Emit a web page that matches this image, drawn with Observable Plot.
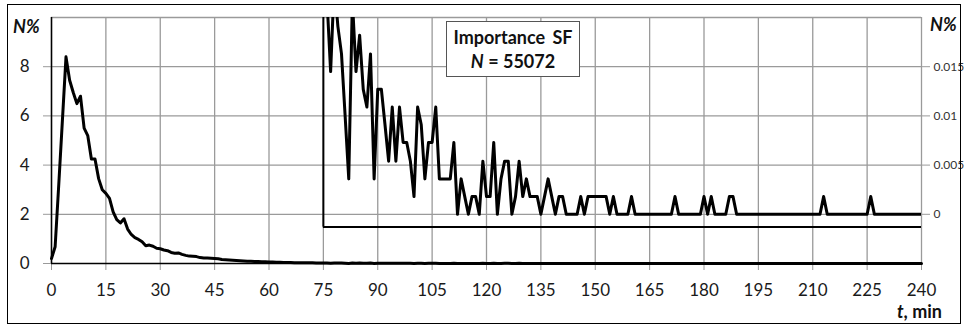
<!DOCTYPE html>
<html>
<head>
<meta charset="utf-8">
<script src="https://cdn.jsdelivr.net/npm/d3@7"></script>
<script src="https://cdn.jsdelivr.net/npm/@observablehq/plot@0.6"></script>
<style>
  body { margin: 0; background: #fff; font-family: Lato, "Open Sans", sans-serif; }
  #wrap { position: relative; width: 966px; height: 325px; overflow: hidden; }
  #frame { position: absolute; left: 7px; top: 4px; width: 954px; height: 320px; box-sizing: border-box; border: 1px solid #000; pointer-events: none; }
  #chart { position: absolute; left: 0; top: 0; }
  .lbl { position: absolute; font-family: Lato, sans-serif; font-weight: 700; color: #111; white-space: nowrap; line-height: 1; }
  #box { position: absolute; left: 446px; top: 21px; width: 134px; height: 56px; box-sizing: border-box; border: 1px solid #555; background: #fff;
         font-family: Lato, sans-serif; font-weight: 700; font-size: 18px; color: #111; text-align: center; line-height: 24px; padding-top: 3px; }
</style>
</head>
<body>
<div id="wrap">
  <div id="chart"></div>
  <div id="frame"></div>
  <div class="lbl" style="left:13px; top:17px; font-size:18px; font-style:italic;">N%</div>
  <div class="lbl" style="left:930px; top:15px; font-size:18px; font-style:italic;">N%</div>
  <div class="lbl" style="right:24px; top:302px; font-size:18px;"><i>t</i>, min</div>
  <div id="box"><div style="word-spacing:3px">Importance SF</div><div><i>N</i> = 55072</div></div>
</div>
<script>
// minutes after shock (x)
const minutes = d3.range(0, 241);
// N% per minute, t = 0..74
const nEarly = [
  0.2, 0.68, 3.2, 5.8, 8.4, 7.45, 6.95, 6.5, 6.8, 5.5,
  5.2, 4.25, 4.25, 3.45, 3.0, 2.85, 2.65, 2.1, 1.78, 1.65,
  1.82, 1.4, 1.18, 1.05, 0.98, 0.88, 0.72, 0.75, 0.7, 0.62,
  0.6, 0.55, 0.52, 0.45, 0.42, 0.43, 0.37, 0.33, 0.3, 0.29,
  0.28, 0.24, 0.22, 0.22, 0.21, 0.2, 0.19, 0.16, 0.15, 0.14,
  0.13, 0.12, 0.11, 0.1, 0.09, 0.09, 0.08, 0.08, 0.07, 0.07,
  0.06, 0.06, 0.05, 0.05, 0.04, 0.04, 0.04, 0.035, 0.03, 0.03,
  0.03, 0.028, 0.026, 0.025, 0.024
];
// N% per minute, t = 75..240
const nLate = [
  0.0254,0.0218,0.0145,0.0236,0.0191,0.0163,0.0100,0.0036,0.0218,0.0145,
  0.0182,0.0127,0.0109,0.0163,0.0036,0.0127,0.0127,0.0091,0.0054,0.0109,
  0.0054,0.0109,0.0073,0.0073,0.0054,0.0018,0.0109,0.0091,0.0036,0.0073,
  0.0073,0.0109,0.0036,0.0036,0.0036,0.0036,0.0073,0,0.0036,0.0018,
  0,0.0018,0.0018,0,0.0054,0.0018,0.0018,0.0073,0,0.0036,
  0.0054,0.0054,0,0.0018,0.0054,0.0018,0.0036,0.0018,0.0018,0.0018,
  0,0.0018,0.0036,0.0018,0,0.0018,0.0018,0,0,0,
  0,0.0018,0,0.0018,0.0018,0.0018,0.0018,0.0018,0.0018,0,
  0.0018,0,0,0,0,0.0018,0,0,0,0,
  0,0,0,0,0,0,0,0.0018,0,0,
  0,0,0,0,0,0.0018,0,0.0018,0,0,
  0,0,0.0018,0.0018,0,0,0,0,0,0,
  0,0,0,0,0,0,0,0,0,0,
  0,0,0,0,0,0,0,0,0.0018,0,
  0,0,0,0,0,0,0,0,0,0,
  0,0.0018,0,0,0,0,0,0,0,0,
  0,0,0,0,0,0
];
const nPct = [...nEarly, ...nLate];

const xTicks = d3.range(0, 241, 15);
const yTicks = [0, 2, 4, 6, 8];
const yGrid = [2, 4, 6, 8, 10];
const insetTicks = [0, 0.005, 0.01, 0.015];
const insetX = [75, 240];          // inset time span
const insetVDomain = [0, 0.02];    // inset value domain
const insetYRange = [2, 10];       // where that domain sits on the main axis
const insetFloor = -0.0013;        // inset lower frame

const data = minutes.map((t, i) => ({t, v: nPct[i]}));
const insetData = data.filter(d => d.t >= insetX[0]);
const toMain = d3.scaleLinear().domain(insetVDomain).range(insetYRange);
const fmtInset = d3.format(".3~f");

const chart = Plot.plot({
  width: 966,
  height: 325,
  marginLeft: 51,
  marginRight: 45,
  marginTop: 17,
  marginBottom: 62,
  style: {fontFamily: "Lato, sans-serif", background: "transparent"},
  x: {domain: [0, 240]},
  y: {domain: [0, 10]},
  marks: [
    Plot.gridX(xTicks, {stroke: "#9a9a9a", strokeOpacity: 1, strokeWidth: 1.3}),
    Plot.gridY(yGrid, {stroke: "#9a9a9a", strokeOpacity: 1, strokeWidth: 1.3}),
    Plot.axisX({ticks: xTicks, tickSize: 7, tickPadding: 13, stroke: "#9a9a9a", fill: "#1a1a1a", fontSize: 17, label: null}),
    Plot.axisY({ticks: yTicks, tickSize: 8, tickPadding: 14, stroke: "#9a9a9a", fill: "#1a1a1a", fontSize: 17, label: null}),
    Plot.axisY(insetTicks.map(toMain), {anchor: "right", tickSize: 8, tickPadding: 4, stroke: "#9a9a9a", fill: "#333", fontSize: 12,
      tickFormat: d => fmtInset(toMain.invert(d)), label: null}),
    Plot.ruleY([0], {stroke: "#000", strokeWidth: 1.5}),
    Plot.ruleX([0], {stroke: "#000", strokeWidth: 1.5}),
    // inset frame
    Plot.ruleX([insetX[0]], {y1: toMain(insetFloor), y2: 10, stroke: "#000", strokeWidth: 2}),
    Plot.ruleY([toMain(insetFloor)], {x1: insetX[0], x2: insetX[1], stroke: "#000", strokeWidth: 2}),
    // inset series
    Plot.line(insetData, {x: "t", y: d => toMain(d.v), stroke: "#000", strokeWidth: 3, strokeLinejoin: "round", clip: true}),
    // main series
    Plot.line(data, {x: "t", y: "v", stroke: "#000", strokeWidth: 3, strokeLinejoin: "round"})
  ]
});
document.getElementById("chart").appendChild(chart);
</script>
</body>
</html>
